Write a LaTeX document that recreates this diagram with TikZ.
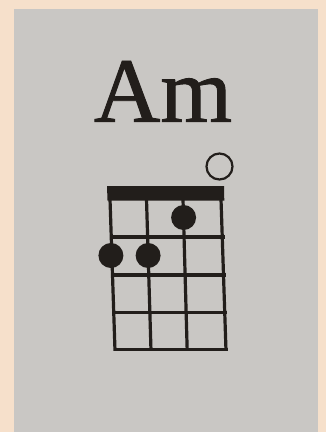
\documentclass[tikz,border=0pt]{standalone}
\usepackage{fontspec}
\setmainfont{Liberation Serif}
\newfontfamily\titlefont[FakeBold=1]{Liberation Serif}
\definecolor{beige}{HTML}{F6E0CB}
\definecolor{paper}{HTML}{C9C7C4}
\definecolor{ink}{HTML}{221E1B}
\begin{document}
\begin{tikzpicture}[x=1pt,y=-1pt,
  gridline/.style={draw=ink,line width=3.2pt},
  fingerdot/.style={circle,fill=ink,minimum size=25pt,inner sep=0pt},
  opendot/.style={circle,draw=ink,line width=2.2pt,minimum size=26pt,inner sep=0pt}]
\fill[beige] (0,0) rectangle (326,432);
\useasboundingbox (0,0) rectangle (326,432);
\fill[paper] (14,9) rectangle (318,432);
\node[text=ink,font=\titlefont\fontsize{92}{92}\selectfont,anchor=base] (title) at (163,121.7) {Am};
% nut
\fill[ink] (107,186) -- (224,186) -- (224.3,200.5) -- (107.5,200.5) -- cycle;
% strings (slightly skewed, as photographed)
\foreach \xa/\xb in {110/115,146.5/151,183/187.2,221/226} \draw[gridline] (\xa,199) -- (\xb,350.8);
% frets
\foreach \y/\xa/\xb in {237/109.8/224.8,275/111.1/226,312.5/112.3/227.3,349.5/113.5/228.2} \draw[gridline] (\xa,\y) -- (\xb,\y);
\node[fingerdot] (d1) at (183.6,217.5) {};
\node[fingerdot] (d2) at (110.9,255.5) {};
\node[fingerdot] (d3) at (148.1,255.5) {};
\node[opendot] (o) at (219.5,166.5) {};
\end{tikzpicture}
\end{document}
